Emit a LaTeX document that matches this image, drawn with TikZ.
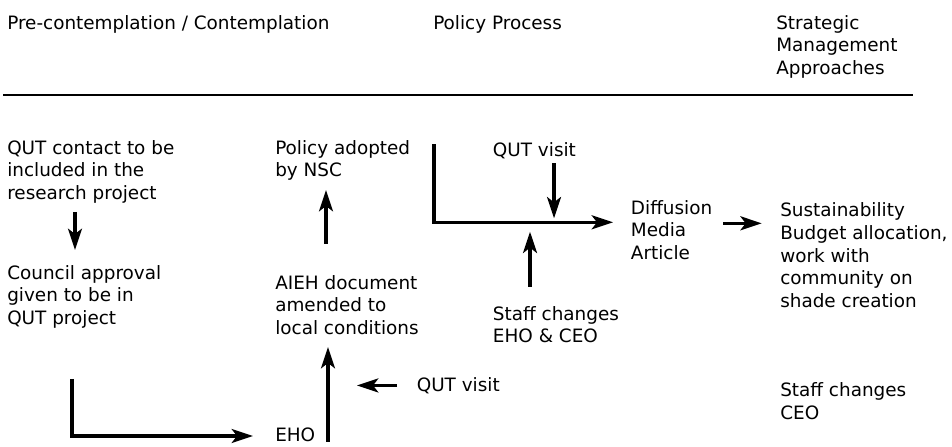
\documentclass[tikz,border=0pt]{standalone}
\usepackage{fontspec}
\setmainfont{DejaVu Sans}
\usetikzlibrary{arrows.meta}
\tikzset{>={Stealth[length=16pt, width=10.5pt, inset=4pt]}}
\tikzset{txt/.style={anchor=north west, inner sep=0pt, align=left, font=\fontsize{13.8}{16.9}\selectfont}}
\tikzset{ln/.style={line width=2.3pt}}

\begin{document}
\begin{tikzpicture}[x=.75pt, y=-.75pt]
    \useasboundingbox(0, 0) rectangle (952, 446);
    \node[txt](hd1) at(7, 15){Pre-contemplation / Contemplation};
    \node[txt](hd2) at(433, 15){Policy Process};
    \node[txt](hd3) at(776, 15){Strategic\\Management\\Approaches};
    \draw[line width=1.7pt](3, 95)--(913, 95);
    \node[txt](qut) at(7, 140){QUT contact to be\\included in the\\research project};
    \node[txt](council) at(7, 265){Council approval\\given to be in\\QUT project};
    \node[txt](policy) at(275, 140){Policy adopted\\by NSC};
    \node[txt](aieh) at(275, 275){AIEH document\\amended to\\local conditions};
    \node[txt](eho) at(275, 427.5){EHO};
    \node[txt](visit1) at(416.5, 377){QUT visit};
    \node[txt](visit2) at(492.7, 142.4){QUT visit};
    \node[txt](staff1) at(492.7, 306){Staff changes\\EHO \& CEO};
    \node[txt](diff) at(630.7, 200){Diffusion\\Media\\Article};
    \node[txt](sust) at(780, 202.7){Sustainability\\Budget allocation,\\work with\\community on\\shade creation};
    \node[txt](staff2) at(780, 382.7){Staff changes\\CEO};
    % arrow tips
    \coordinate(tq) at(75, 250);
    \coordinate(ce) at(72, 378);
    \coordinate(te) at(253, 436);
    \coordinate(ta) at(328, 347);
    \coordinate(tp) at(326, 190);
    \coordinate(tv) at(357, 384);
    \coordinate(pp) at(434, 144);
    \coordinate(pd) at(613, 222.3);
    \coordinate(tv2) at(554, 218.3);
    \coordinate(ts) at(530, 231.7);
    \coordinate(tsu) at(761.7, 223.3);
    \draw[ln, ->, shorten <=6.3pt](qut.south -| tq)--(tq);		%contact
    \draw[ln, ->, shorten <=37.8pt](council.south -| ce)|-(te);	%approval
    \draw[ln, ->, shorten <=0pt](eho.south -| ta)--(ta);		%eho
    \draw[ln, ->, shorten <=23.3pt](aieh.north -| tp)--(tp);	%aieh
    \draw[ln, ->, shorten <=14.6pt](visit1.west)--(visit1.west -| tv);	%visit
    \draw[ln, ->](pp)|-(pd);
    \draw[ln, ->, shorten <=2.8pt](visit2.south -| tv2)--(tv2);
    \draw[ln, ->, shorten <=14.5pt](staff1.north -| ts)--(ts);
    \draw[ln, ->, shorten <=8pt](diff.east |- tsu)--(tsu);		%diffusion
\end{tikzpicture}
\end{document}
